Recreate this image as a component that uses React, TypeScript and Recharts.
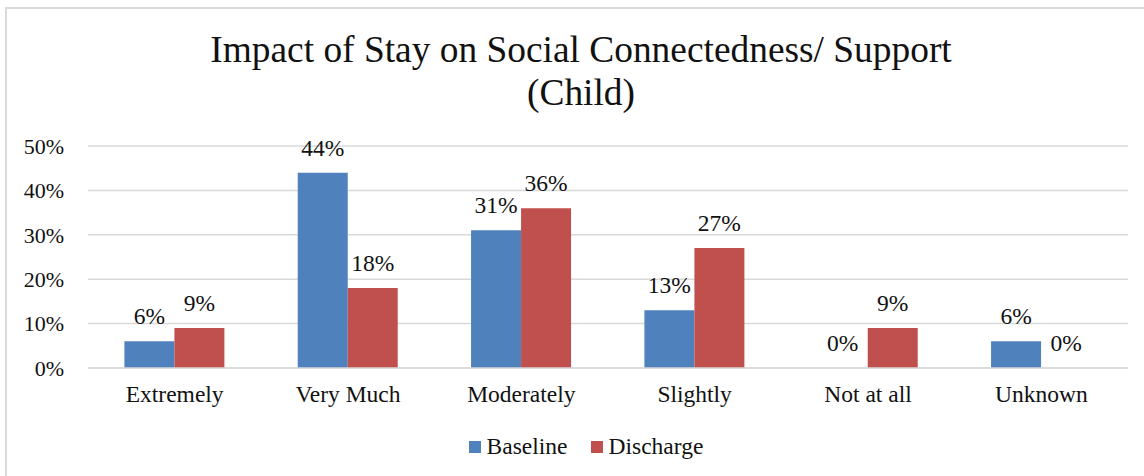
import React from 'react';
import { BarChart, Bar, XAxis, YAxis, CartesianGrid, Legend, LabelList } from 'recharts';

const categories = ['Extremely', 'Very Much', 'Moderately', 'Slightly', 'Not at all', 'Unknown'];
const baselineValues = [6, 44, 31, 13, 0, 6];
const dischargeValues = [9, 18, 36, 27, 9, 0];
const yTicks = [0, 10, 20, 30, 40, 50];

const data = categories.map((name, i) => ({
  name,
  Baseline: baselineValues[i],
  Discharge: dischargeValues[i],
}));

const FONT = '"Liberation Serif", "Times New Roman", serif';
const TEXT = '#111';
const LABEL_SIZE = 23.5;

const pct = (v: number) => `${v}%`;

// Value label above each bar; drawn for zero-height bars too.
function ValueLabel(props: any) {
  const { x, y, width, height, value } = props;
  if (value === undefined || value === null) return null;
  const top = Math.min(Number(y), Number(y) + Number(height || 0));
  return (
    <text
      x={Number(x) + Number(width) / 2}
      y={top - 17}
      textAnchor="middle"
      fontFamily={FONT}
      fontSize={LABEL_SIZE}
      fill={TEXT}
    >
      {pct(value)}
    </text>
  );
}

function LegendContent(props: any) {
  const items = props.payload || [];
  return (
    <div style={{ display: 'flex', justifyContent: 'center', alignItems: 'center', paddingLeft: 28, fontFamily: FONT, fontSize: LABEL_SIZE, color: TEXT }}>
      {items.map((it: any, i: number) => (
        <div key={i} style={{ display: 'flex', alignItems: 'center', marginLeft: i === 0 ? 0 : 23 }}>
          <span style={{ width: 12, height: 12, background: it.color, display: 'inline-block', marginRight: 6 }} />
          <span>{it.value}</span>
        </div>
      ))}
    </div>
  );
}

export default function App() {
  return (
    <div style={{ position: 'absolute', left: 0, top: 0, width: 1144, height: 476, background: '#fff', overflow: 'hidden' }}>
      <div
        style={{
          position: 'absolute',
          left: 5,
          top: 7,
          width: 1200,
          height: 520,
          borderTop: '2px solid #d9d9d9',
          borderLeft: '2px solid #d9d9d9',
        }}
      />
      <div
        style={{
          position: 'absolute',
          left: 0,
          top: 28,
          width: 1162,
          textAlign: 'center',
          fontFamily: FONT,
          fontSize: 37.4,
          lineHeight: '43px',
          color: TEXT,
        }}
      >
        Impact of Stay on Social Connectedness/ Support
        <br />
        (Child)
      </div>
      <div style={{ position: 'absolute', left: 0, top: 0 }}>
        <BarChart
          width={1144}
          height={476}
          data={data}
          margin={{ top: 146, right: 16, bottom: 78, left: 0 }}
          barCategoryGap="21%"
          barGap={0}
        >
          <CartesianGrid vertical={false} stroke="#d9d9d9" strokeWidth={1.5} />
          <XAxis
            dataKey="name"
            height={30}
            axisLine={{ stroke: '#d9d9d9', strokeWidth: 1.5 }}
            tickLine={false}
            tick={{ fontFamily: FONT, fontSize: LABEL_SIZE, fill: TEXT }}
            tickMargin={11}
          />
          <YAxis
            width={88}
            domain={[0, 50]}
            ticks={yTicks}
            tickFormatter={pct}
            axisLine={false}
            tickLine={false}
            tick={{ fontFamily: FONT, fontSize: 22, fill: TEXT }}
            tickMargin={18}
          />
          <Legend
            content={<LegendContent />}
            wrapperStyle={{ position: 'absolute', top: 433, left: 0, width: 1144, height: 0, overflow: 'visible' }}
          />
          <Bar dataKey="Baseline" fill="#4F81BD" minPointSize={0.01} isAnimationActive={false}>
            <LabelList dataKey="Baseline" content={<ValueLabel />} />
          </Bar>
          <Bar dataKey="Discharge" fill="#C0504D" minPointSize={0.01} isAnimationActive={false}>
            <LabelList dataKey="Discharge" content={<ValueLabel />} />
          </Bar>
        </BarChart>
      </div>
    </div>
  );
}
